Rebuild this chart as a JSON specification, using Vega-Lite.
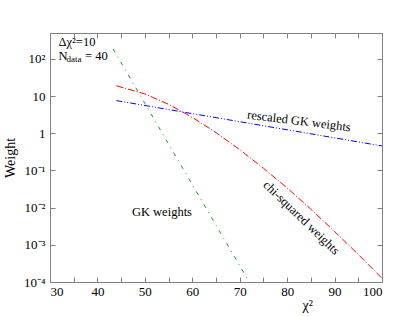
{
  "$schema": "https://vega.github.io/schema/vega-lite/v6.json",
  "width": 332,
  "height": 249,
  "autosize": {"type": "none"},
  "padding": {"left": 50, "top": 33, "right": 33, "bottom": 34},
  "background": "white",
  "config": {
    "view": {"stroke": "#808080", "strokeWidth": 1},
    "font": "Liberation Serif",
    "axis": {"domain": false, "grid": false, "tickColor": "#808080", "labelColor": "black", "titleColor": "black", "labelFont": "Liberation Serif", "titleFont": "Liberation Serif", "labelFontSize": 13, "titleFontSize": 14, "titleFontWeight": "normal"}
  },
  "layer": [
    {
      "data": {"values": [
        {"series": "GK", "x": 43.3, "w": 186},
        {"series": "GK", "x": 50, "w": 6.4},
        {"series": "GK", "x": 60, "w": 0.0418},
        {"series": "GK", "x": 72, "w": 0.0001},
        {"series": "chi", "x": 44, "w": 19.05},
        {"series": "chi", "x": 50, "w": 11.48},
        {"series": "chi", "x": 55, "w": 6.03},
        {"series": "chi", "x": 60, "w": 2.69},
        {"series": "chi", "x": 65, "w": 1.047},
        {"series": "chi", "x": 70, "w": 0.363},
        {"series": "chi", "x": 75, "w": 0.115},
        {"series": "chi", "x": 80, "w": 0.0339},
        {"series": "chi", "x": 85, "w": 0.00912},
        {"series": "chi", "x": 90, "w": 0.00229},
        {"series": "chi", "x": 95, "w": 0.00055},
        {"series": "chi", "x": 100, "w": 0.000126},
        {"series": "resc", "x": 44, "w": 7.59},
        {"series": "resc", "x": 60, "w": 3.39},
        {"series": "resc", "x": 80, "w": 1.245},
        {"series": "resc", "x": 100, "w": 0.457}
      ]},
      "mark": {"type": "line", "strokeWidth": 1, "clip": true},
      "encoding": {
        "x": {"field": "x", "type": "quantitative",
          "scale": {"domain": [30, 100], "nice": false, "zero": false},
          "axis": {"orient": "bottom", "values": [30,35,40,45,50,55,60,65,70,75,80,85,90,95,100],
            "labelExpr": "datum.value % 10 == 0 ? datum.label : ''", "tickSize": -5, "labelPadding": 8,
            "title": "χ²", "titleAnchor": "start", "titleX": 252, "titlePadding": 0}},
        "y": {"field": "w", "type": "quantitative",
          "scale": {"type": "log", "domain": [0.0001, 500], "nice": false},
          "axis": {"orient": "left", "values": [0.0001, 0.001, 0.01, 0.1, 1, 10, 100],
            "labelExpr": "datum.value == 1 ? '1' : datum.value == 10 ? '10' : datum.value == 100 ? '10²' : datum.value < 0.00015 ? '10⁻⁴' : datum.value < 0.0015 ? '10⁻³' : datum.value < 0.015 ? '10⁻²' : '10⁻¹'",
            "tickSize": -5, "labelPadding": 10, "title": "Weight", "titlePadding": 6}},
        "color": {"field": "series", "type": "nominal", "legend": null,
          "scale": {"domain": ["GK", "chi", "resc"], "range": ["#1e9a1e", "#ff0000", "#0000ff"]}},
        "strokeDash": {"field": "series", "type": "nominal", "legend": null,
          "scale": {"domain": ["GK", "chi", "resc"], "range": [[4, 5, 1, 5], [7, 2, 1, 2], [6, 2, 1, 2, 1, 2]]}}
      }
    },
    {
      "data": {"values": [{"label": "GK weights", "x": 53.6, "y": 0.0078}]},
      "mark": {"type": "text", "fontSize": 12.5, "align": "center", "baseline": "middle"},
      "encoding": {
        "x": {"field": "x", "type": "quantitative",
          "axis": {"orient": "top", "values": [30,35,40,45,50,55,60,65,70,75,80,85,90,95,100], "labels": false, "tickSize": -5, "title": null}},
        "y": {"field": "y", "type": "quantitative",
          "axis": {"orient": "right", "values": [0.0001, 0.001, 0.01, 0.1, 1, 10, 100], "labels": false, "tickSize": -5, "title": null}},
        "text": {"field": "label"}
      }
    },
    {
      "data": {"values": [{"label": "rescaled GK weights", "x": 82.5, "y": 2.15}]},
      "mark": {"type": "text", "fontSize": 12.5, "align": "center", "baseline": "middle", "angle": 7},
      "encoding": {
        "x": {"field": "x", "type": "quantitative", "axis": null},
        "y": {"field": "y", "type": "quantitative", "axis": null},
        "text": {"field": "label"}
      }
    },
    {
      "data": {"values": [{"label": "chi-squared weights", "x": 83.0, "y": 0.0054}]},
      "mark": {"type": "text", "fontSize": 12.5, "align": "center", "baseline": "middle", "angle": 44},
      "encoding": {
        "x": {"field": "x", "type": "quantitative", "axis": null},
        "y": {"field": "y", "type": "quantitative", "axis": null},
        "text": {"field": "label"}
      }
    },
    {
      "data": {"values": [{"label": "Δχ²=10", "x": 31.8, "y": 285}, {"label": "N", "x": 31.8, "y": 120}, {"label": "= 40", "x": 37.4, "y": 120}]},
      "mark": {"type": "text", "fontSize": 12.5, "align": "left", "baseline": "middle"},
      "encoding": {
        "x": {"field": "x", "type": "quantitative", "axis": null},
        "y": {"field": "y", "type": "quantitative", "axis": null},
        "text": {"field": "label"}
      }
    },
    {
      "data": {"values": [{"label": "data", "x": 33.5, "y": 120}]},
      "mark": {"type": "text", "fontSize": 9, "align": "left", "baseline": "middle", "dy": 3},
      "encoding": {
        "x": {"field": "x", "type": "quantitative", "axis": null},
        "y": {"field": "y", "type": "quantitative", "axis": null},
        "text": {"field": "label"}
      }
    }
  ]
}
